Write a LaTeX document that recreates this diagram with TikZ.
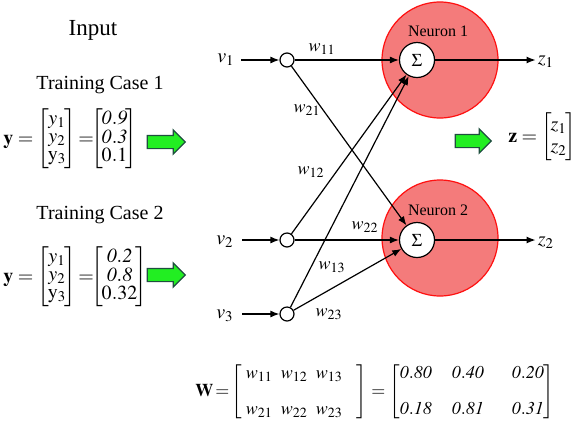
\documentclass[tikz,border=0pt]{standalone}
\usepackage{amsmath}
\usepackage{mathptmx}
\usepackage[no-math]{fontspec}
\setmainfont{Liberation Serif}
\usetikzlibrary{arrows.meta,shapes.arrows,positioning}
\definecolor{neuronfill}{HTML}{F47B7B}
\definecolor{neuronline}{HTML}{FF1010}
\definecolor{arrowgreen}{HTML}{22EE22}
\definecolor{arrowedge}{HTML}{1F4F3F}
\newcommand{\bvec}[1]{\left[\mskip-1.5mu\begin{matrix}#1\end{matrix}\mskip-1.5mu\right]}
\tikzset{
  title/.style={font=\fontsize{11.5}{14}\selectfont,inner sep=1pt},
  caselbl/.style={font=\fontsize{10}{12}\selectfont,inner sep=1pt},
  mtx/.style={font=\fontsize{10}{9}\selectfont,inner sep=0pt},
  garrow/.style={single arrow,draw=arrowedge,fill=arrowgreen,line width=0.6pt,
    minimum width=0pt,minimum height=19pt,single arrow head extend=2.75pt,
    inner xsep=0pt,inner ysep=3pt},
}
\begin{document}
\begin{tikzpicture}[x=0.5pt,y=-0.5pt,
  inbox/.style={circle,draw,fill=white,minimum size=7pt,inner sep=0pt,line width=0.6pt},
  sumbox/.style={circle,draw,fill=white,minimum size=17.5pt,inner sep=0pt,line width=0.6pt,
    font=\fontsize{9}{10}\selectfont},
  neuron/.style={circle,draw=neuronline,fill=neuronfill,minimum size=58pt,inner sep=0pt,line width=0.6pt},
  conn/.style={-{Latex[length=4.5pt,width=3.5pt]},line width=0.6pt},
  wlbl/.style={font=\fontsize{9}{10}\selectfont,inner sep=0pt},
  vlbl/.style={font=\fontsize{10}{12}\selectfont,inner sep=1pt},
  nlbl/.style={font=\fontsize{8}{10}\selectfont,inner sep=0pt},
]
  \useasboundingbox (0,0) rectangle (576,424);

  % inputs on the left
  \node[title] (input) at (93,30) {Input};
  \node[caselbl] (case1) at (100,85) {Training Case 1};
  \node[mtx,anchor=west] (vec1) at (3,139) {$\mathbf{y}=\bvec{y_1\\ y_2\\ \mathrm{y}_3}
    \!=\mskip-6mu\bvec{\mathit{0.9}\\ \mathit{0.3}\\ 0.1}$};
  \node[garrow] (go1) at (163,142) {};
  \node[caselbl] (case2) at (100,215) {Training Case 2};
  \node[mtx,anchor=west] (vec2) at (3,277) {$\mathbf{y}=\bvec{y_1\\ y_2\\ \mathrm{y}_3}
    \!=\mskip-6mu\bvec{\mathit{0.2}\\ \mathit{0.8}\\ 0.32}$};
  \node[garrow] (go2) at (163,275) {};

  % neurons
  \node[neuron] (neuron1) at (440,60) {};
  \node[neuron] (neuron2) at (440,238) {};
  \node[nlbl] at (438,31) {Neuron 1};
  \node[nlbl] at (438,210) {Neuron 2};
  \node[sumbox] (sig1) at (417,60) {$\Sigma$};
  \node[sumbox] (sig2) at (417,240) {$\Sigma$};

  % input layer
  \node[inbox] (in1) at (287,60) {};
  \node[inbox] (in2) at (287,240) {};
  \node[inbox] (in3) at (287,314) {};
  \node[vlbl] (v1) at (226,60) {$v_1$};
  \node[vlbl] (v2) at (225,242) {$v_2$};
  \node[vlbl] (v3) at (225,316) {$v_3$};
  \draw[conn] ([xshift=2pt]v1.east |- in1) -- (in1);
  \draw[conn] ([xshift=3pt]v2.east |- in2) -- (in2);
  \draw[conn] ([xshift=3pt]v3.east |- in3) -- (in3);

  % weighted connections
  \draw[conn] (in1) -- (sig1);
  \draw[conn] (in1) -- (sig2);
  \draw[conn] (in2) -- (sig1);
  \draw[conn] (in2) -- (sig2);
  \draw[conn] (in3) -- (sig1);
  \draw[conn] (in3) -- (sig2);
  \node[wlbl] at (322,49) {$w_{11}$};
  \node[wlbl] at (307,110) {$w_{21}$};
  \node[wlbl] at (311,172) {$w_{12}$};
  \node[wlbl] at (365,227) {$w_{22}$};
  \node[wlbl] at (332,267) {$w_{13}$};
  \node[wlbl] at (329,314) {$w_{23}$};

  % outputs
  \node[vlbl] (z1) at (546,62) {$z_1$};
  \node[vlbl] (z2) at (546,243) {$z_2$};
  \draw[conn] (sig1) -- (sig1 -| z1.west);
  \draw[conn] (sig2) -- (sig2 -| z2.west);
  \node[garrow,minimum height=18pt] (go3) at (470,141) {};
  \node[mtx,font=\fontsize{10}{11}\selectfont] (zvec) at (542,137) {$\mathbf{z}=\bvec{z_1\\ z_2}$};

  % weight matrix
  \node[mtx,font=\fontsize{9}{11}\selectfont,anchor=west] (wmat) at (195,392) {%
    $\mathbf{W}\!=\!{\setlength\arraycolsep{2pt}\begin{bmatrix}\;w_{11}&w_{12}&w_{13}\hspace{7pt}\\[7pt]
    \;w_{21}&w_{22}&w_{23}\hspace{7pt}\end{bmatrix}}
    ={\setlength\arraycolsep{5pt}\begin{bmatrix}\mathit{0.80}&\mathit{0.40}&\;\;\mathit{0.20}\\[7pt]
    \mathit{0.18}&\mathit{0.81}&\;\;\mathit{0.31}\end{bmatrix}}$};
\end{tikzpicture}
\end{document}
